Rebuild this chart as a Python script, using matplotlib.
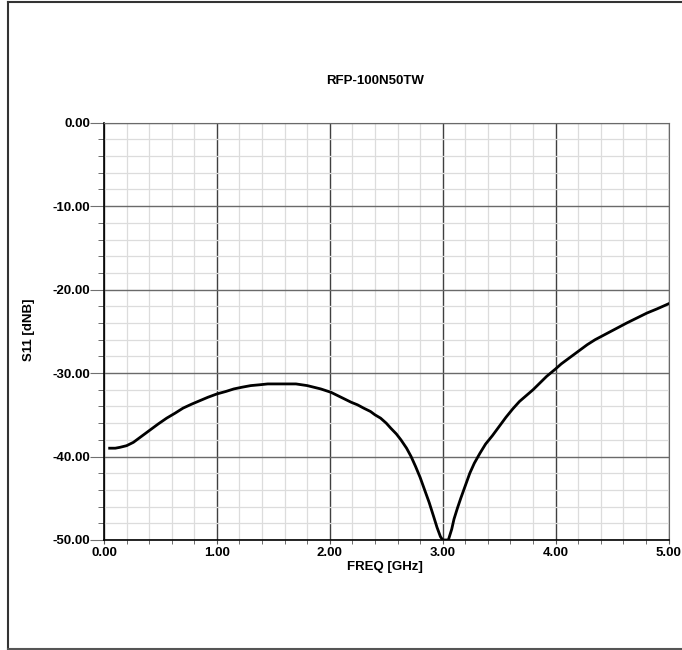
import matplotlib
matplotlib.use("Agg")
import matplotlib.pyplot as plt
from matplotlib.ticker import MultipleLocator, FormatStrFormatter
from matplotlib.lines import Line2D

title = "RFP-100N50TW"
xlabel = "FREQ [GHz]"
ylabel = "S11 [dNB]"

freq = [0.05, 0.10, 0.14, 0.20, 0.26, 0.33, 0.41, 0.48, 0.555, 0.63, 0.70, 0.78,
        0.85, 0.92, 1.0, 1.08, 1.15, 1.22, 1.30, 1.38, 1.45, 1.52, 1.60, 1.65,
        1.70, 1.75, 1.80, 1.86, 1.92, 2.01, 2.07, 2.13, 2.19, 2.245, 2.30, 2.36,
        2.40, 2.45, 2.50, 2.54, 2.59, 2.63, 2.68, 2.72, 2.76, 2.80, 2.84, 2.88,
        2.92, 2.95, 2.98, 3.0, 3.05, 3.08, 3.10, 3.13, 3.16, 3.20, 3.24, 3.28,
        3.33, 3.38, 3.44, 3.50, 3.56, 3.62, 3.68, 3.74, 3.80, 3.86, 3.92, 4.0,
        4.05, 4.10, 4.16, 4.21, 4.28, 4.35, 4.42, 4.49, 4.56, 4.63, 4.72, 4.81,
        4.90, 5.0]
s11 = [-39.0, -39.0, -38.9, -38.7, -38.3, -37.6, -36.8, -36.1, -35.4, -34.8,
       -34.2, -33.7, -33.3, -32.9, -32.5, -32.2, -31.9, -31.7, -31.5, -31.4,
       -31.3, -31.3, -31.3, -31.3, -31.3, -31.4, -31.5, -31.7, -31.9, -32.3,
       -32.7, -33.1, -33.5, -33.8, -34.2, -34.6, -35.0, -35.4, -36.0, -36.6,
       -37.3, -38.0, -39.0, -40.0, -41.2, -42.5, -44.0, -45.5, -47.2, -48.5,
       -49.6, -50.0, -50.0, -48.7, -47.5, -46.2, -45.0, -43.5, -42.0, -40.8,
       -39.6, -38.5, -37.5, -36.4, -35.3, -34.3, -33.4, -32.7, -32.0, -31.2,
       -30.4, -29.5, -28.9, -28.4, -27.8, -27.3, -26.6, -26.0, -25.5, -25.0,
       -24.5, -24.0, -23.4, -22.8, -22.3, -21.7]

plt.rcParams['font.family'] = ['Liberation Sans', 'DejaVu Sans']

W, H = 682, 650
fig = plt.figure(figsize=(W / 100, H / 100), dpi=100)
ax = fig.add_axes([104 / W, 1 - 540 / H, (668.5 - 104) / W, (540 - 122.7) / H])

ax.set_xlim(0, 5)
ax.set_ylim(-50, 0)
ax.xaxis.set_major_locator(MultipleLocator(1))
ax.xaxis.set_minor_locator(MultipleLocator(0.2))
ax.yaxis.set_major_locator(MultipleLocator(10))
ax.yaxis.set_minor_locator(MultipleLocator(2))
ax.xaxis.set_major_formatter(FormatStrFormatter('%.2f'))
ax.yaxis.set_major_formatter(FormatStrFormatter('%.2f'))

ax.grid(which='minor', axis='both', color='#dcdcdc', linewidth=0.9)
ax.grid(which='major', axis='x', color='#404040', linewidth=1.0)
ax.grid(which='major', axis='y', color='#6a6a6a', linewidth=1.0)
ax.set_axisbelow(True)

ax.plot(freq, s11, color='black', linewidth=2.0, clip_on=True, zorder=3,
        solid_joinstyle='round')

for s in ['top', 'right']:
    ax.spines[s].set_color('#6a6a6a')
for s in ['left', 'bottom']:
    ax.spines[s].set_color('black')
    ax.spines[s].set_linewidth(1.2)

FS = 9.5
ax.tick_params(axis='y', which='major', length=10, color='#707070', pad=0,
               labelsize=FS)
ax.tick_params(axis='y', which='minor', length=4, color='#555555')
ax.tick_params(axis='x', which='major', length=3, color='#555555', pad=2,
               labelsize=FS)
ax.tick_params(axis='x', which='minor', length=3, color='#555555')
for lbl in ax.get_xticklabels() + ax.get_yticklabels():
    lbl.set_fontweight('bold')

fig.text(375 / W, 1 - 81 / H, title, ha='center', va='center',
         fontsize=FS, fontweight='bold')
fig.text(385 / W, 1 - 567 / H, xlabel, ha='center', va='center',
         fontsize=FS, fontweight='bold')
fig.text(29 / W, 1 - 330 / H, ylabel, ha='center', va='center',
         fontsize=FS, fontweight='bold', rotation=90)

# outer frame
fig.add_artist(Line2D([7.5 / W, 7.5 / W], [1 - 2 / H, 1 - 649 / H],
                      transform=fig.transFigure, color='#333333', linewidth=1.5))
fig.add_artist(Line2D([7.5 / W, 1], [1 - 2 / H, 1 - 2 / H],
                      transform=fig.transFigure, color='#333333', linewidth=1.5))
fig.add_artist(Line2D([7.5 / W, 1], [1 - 649 / H, 1 - 649 / H],
                      transform=fig.transFigure, color='#555555', linewidth=1.5))

fig.savefig('out.png', dpi=100)
